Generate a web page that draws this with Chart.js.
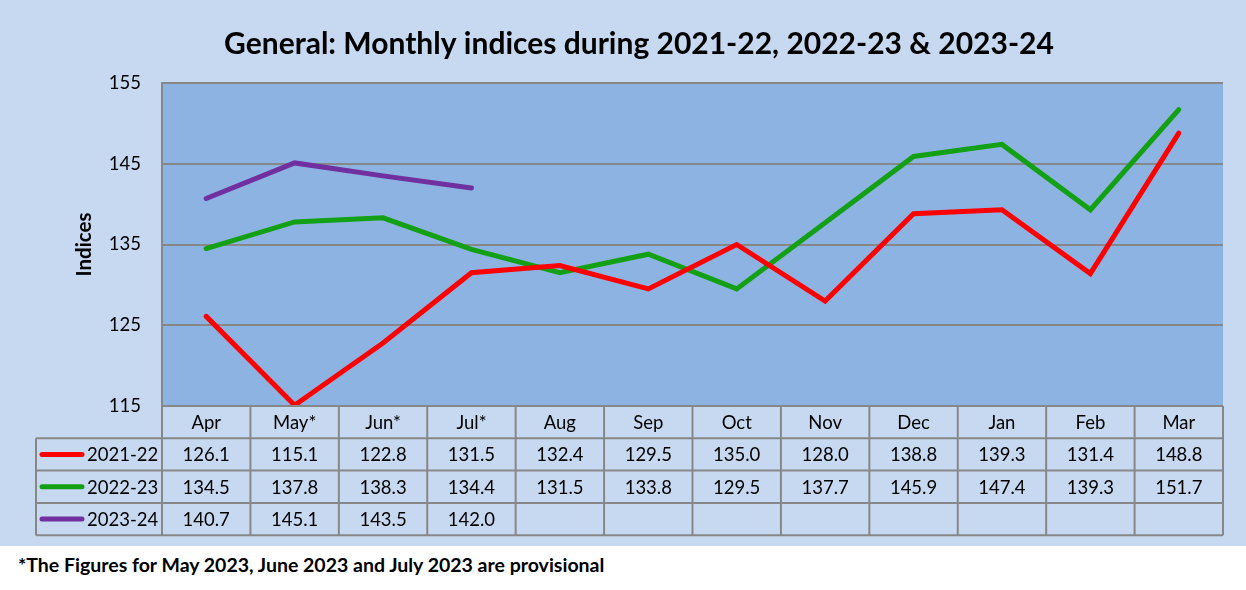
<!DOCTYPE html>
<html>
<head>
<meta charset="utf-8">
<script src="https://cdn.jsdelivr.net/npm/chart.js@4.4.0/dist/chart.umd.min.js"></script>
<style>
  html, body { margin: 0; padding: 0; background: #ffffff; width: 1246px; height: 590px; overflow: hidden; }
  #wrap { width: 1246px; height: 546px; background: #C6D9F1; }
  canvas { display: block; }
  #note { font-family: Lato, "Open Sans", sans-serif; font-weight: bold; font-size: 19.5px; color: #000; position: absolute; left: 18px; top: 553px; }
</style>
</head>
<body>
<div id="wrap"><canvas id="c" width="1246" height="546"></canvas></div>
<div id="note">*The Figures for May 2023, June 2023 and July 2023 are provisional</div>
<script>
const titleText = "General: Monthly indices during 2021-22, 2022-23 & 2023-24";
const months = ["Apr", "May*", "Jun*", "Jul*", "Aug", "Sep", "Oct", "Nov", "Dec", "Jan", "Feb", "Mar"];
const seriesNames = ["2021-22", "2022-23", "2023-24"];
const values2021 = [126.1, 115.1, 122.8, 131.5, 132.4, 129.5, 135.0, 128.0, 138.8, 139.3, 131.4, 148.8];
const values2022 = [134.5, 137.8, 138.3, 134.4, 131.5, 133.8, 129.5, 137.7, 145.9, 147.4, 139.3, 151.7];
const values2023 = [140.7, 145.1, 143.5, 142.0, null, null, null, null, null, null, null, null];
const seriesColors = ["#FF0000", "#14A014", "#7030A0"];
const yTicks = [115, 125, 135, 145, 155];

const FONT = "Lato, 'Open Sans', sans-serif";
const GRID = "#878787";

const tablePlugin = {
  id: 'tablePlugin',
  beforeDraw(chart) {
    const { ctx, chartArea: a } = chart;
    ctx.save();
    ctx.fillStyle = '#8DB3E2';
    ctx.fillRect(a.left, a.top, a.right - a.left, a.bottom - a.top);
    // title
    ctx.fillStyle = '#000';
    ctx.font = "bold 30px " + FONT;
    ctx.textAlign = 'center';
    ctx.textBaseline = 'middle';
    ctx.fillText(titleText, 639, 44);
    ctx.restore();
  },
  afterDraw(chart) {
    const { ctx, chartArea: a, scales: { x } } = chart;
    const rowH = 32.3;
    const top = a.bottom;
    const rows = [top, top + rowH, top + 2 * rowH, top + 3 * rowH, top + 4 * rowH];
    const legendLeft = 36;
    const n = months.length;
    const cw = (a.right - a.left) / n;
    ctx.save();
    ctx.strokeStyle = GRID;
    ctx.lineWidth = 2;
    ctx.beginPath();
    ctx.moveTo(a.left, rows[0]); ctx.lineTo(a.right, rows[0]);
    for (let r = 1; r < rows.length; r++) {
      ctx.moveTo(legendLeft, rows[r]); ctx.lineTo(a.right, rows[r]);
    }
    for (let i = 0; i <= n; i++) {
      const xx = i < n ? x.getPixelForValue(i) - cw / 2 : x.getPixelForValue(n - 1) + cw / 2;
      ctx.moveTo(xx, rows[0]); ctx.lineTo(xx, rows[4]);
    }
    ctx.moveTo(legendLeft, rows[1]); ctx.lineTo(legendLeft, rows[4]);
    ctx.stroke();

    ctx.fillStyle = '#000';
    ctx.font = "18.5px " + FONT;
    ctx.textAlign = 'center';
    ctx.textBaseline = 'middle';
    months.forEach((m, i) => {
      ctx.fillText(m, x.getPixelForValue(i), (rows[0] + rows[1]) / 2 + 1);
    });
    const all = [values2021, values2022, values2023];
    all.forEach((vals, r) => {
      const cy = (rows[r + 1] + rows[r + 2]) / 2 + 1;
      vals.forEach((v, i) => {
        if (v !== null) ctx.fillText(v.toFixed(1), x.getPixelForValue(i), cy);
      });
      ctx.save();
      ctx.strokeStyle = seriesColors[r];
      ctx.lineWidth = 5;
      ctx.lineCap = 'round';
      ctx.beginPath();
      ctx.moveTo(42, cy - 1); ctx.lineTo(82, cy - 1);
      ctx.stroke();
      ctx.restore();
      ctx.textAlign = 'left';
      ctx.fillText(seriesNames[r], 87, cy);
      ctx.textAlign = 'center';
    });
    ctx.restore();
  }
};

new Chart(document.getElementById('c'), {
  type: 'line',
  data: {
    labels: months,
    datasets: [values2021, values2022, values2023].map((vals, i) => ({
      label: seriesNames[i],
      data: vals,
      borderColor: seriesColors[i],
      backgroundColor: seriesColors[i],
      borderWidth: 5,
      pointRadius: 0,
      pointHoverRadius: 0,
      tension: 0,
      spanGaps: false,
      borderCapStyle: 'round',
      borderJoinStyle: 'miter'
    }))
  },
  options: {
    responsive: false,
    animation: false,
    devicePixelRatio: 1,
    layout: { padding: { top: 83, bottom: 140, right: 23, left: 0 } },
    plugins: { legend: { display: false }, title: { display: false }, tooltip: { enabled: false } },
    scales: {
      x: {
        type: 'category',
        display: false,
        offset: true
      },
      y: {
        min: 115,
        max: 155,
        afterBuildTicks: (s) => { s.ticks = yTicks.map(v => ({ value: v })); },
        afterFit: (s) => { s.width = 162; },
        grid: { color: GRID, lineWidth: 2, drawTicks: false },
        border: { color: GRID, width: 2 },
        ticks: { color: '#000', font: { family: FONT, size: 18.5 }, padding: 21 },
        title: { display: true, text: 'Indices', color: '#000', font: { family: FONT, size: 20.5, weight: 'bold' }, padding: { top: 72.5, bottom: 0 } }
      }
    }
  },
  plugins: [tablePlugin]
});
</script>
</body>
</html>
